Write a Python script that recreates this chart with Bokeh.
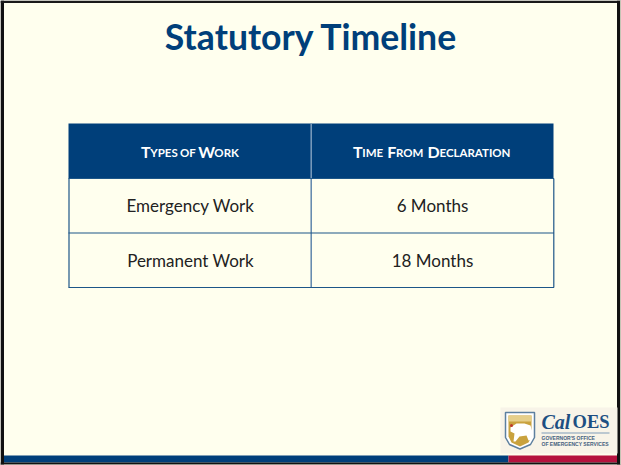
from bokeh.plotting import figure
from bokeh.embed import file_html
from bokeh.resources import INLINE
from bokeh.core.properties import value
from bokeh.models import Range1d

TITLE = "Statutory Timeline"
HEADER_RUNS = [
    [("T", 1), ("YPES", 0), ("OF", 0), ("W", 1), ("ORK", 0)],
    [("T", 1), ("IME", 0), ("F", 1), ("ROM", 0), ("D", 1), ("ECLARATION", 0)],
]
HEADER_GAPS = [
    [0, 0, 1, 1, 0],
    [0, 0, 1, 0, 1, 0],
]
ROW_A = ["Emergency Work", "6 Months"]
ROW_B = ["Permanent Work", "18 Months"]
LOGO_MAIN = ["Cal", "OES"]
LOGO_SUB = ["GOVERNOR'S OFFICE", "OF EMERGENCY SERVICES"]

NAVY = "#003f7a"
CREAM = "#ffffee"
INK = "#222222"
FONT = "Lato"
GLYPH_W = dict(A=.68, B=.65, C=.65, D=.74, E=.56, F=.54, I=.28, K=.66, L=.47, M=.9, N=.75, O=.8,
               P=.6, R=.62, S=.54, T=.58, W=1.0, Y=.62)

p = figure(width=621, height=465, output_backend="svg", toolbar_location=None,
           x_range=Range1d(0, 621), y_range=Range1d(465, 0),
           min_border=0, outline_line_color=None, background_fill_color=CREAM,
           border_fill_color=CREAM, styles={"position": "absolute", "left": "0", "top": "0"})
p.axis.visible = False
p.grid.visible = False


def box(x0, x1, y0, y1, color):
    p.quad(left=x0, right=x1, top=y0, bottom=y1, fill_color=color, line_color=None)


def txt(x, y, s, size, color, font=FONT, style="normal", align="center"):
    p.text(x=[x], y=[y - 0.4 * size], text=[s], text_font=value(font), text_font_size=f"{size}px",
           text_font_style=style, text_color=color, text_align=align,
           text_baseline="alphabetic")


# frame
box(0, 3.5, 0, 465, "#111111")
box(0, 621, 0, 2.5, "#1a1a1a")
box(616.5, 619.5, 0, 465, "#111111")
box(619.5, 621, 0, 465, "#c4c4b4")
box(3.5, 508, 455, 462, NAVY)
box(508, 616.5, 455, 462, "#b5123e")
box(0, 619.5, 462, 464, "#111111")
box(0, 621, 464, 465, "#a5a59a")

# title
txt(311, 50.5, TITLE, 35.6, NAVY, style="bold")

# table
box(68, 553, 123, 178, NAVY)
p.segment(x0=[310.7], x1=[310.7], y0=[123], y1=[178], line_color="#7d9dbd", line_width=1.5)
p.segment(x0=[310.7], x1=[310.7], y0=[178], y1=[287], line_color="#5f86ab", line_width=1.5)
p.segment(x0=[68, 68, 68], x1=[553.5, 553.5, 553.5], y0=[178, 232.5, 287],
          y1=[178, 232.5, 287], line_color="#1d5688", line_width=1.2)
p.segment(x0=[68.5, 553.3], x1=[68.5, 553.3], y0=[178, 178], y1=[287, 287],
          line_color="#1d5688", line_width=1.2)

# small caps headers, drawn run by run
HEADER_START = [140.5, 352.5]
HEADER_SPACE = [3, 5]
BIG, SMALL = 16, 11.5
for runs, gaps, start, space in zip(HEADER_RUNS, HEADER_GAPS, HEADER_START, HEADER_SPACE):
    x = start
    for (s, big), gap in zip(runs, gaps):
        x += gap * space
        size = BIG if big else SMALL
        txt(x, 157, s, size, "#ffffff", style="bold", align="left")
        x += sum(GLYPH_W[c] for c in s) * size

for row, y in zip((ROW_A, ROW_B), (212, 267)):
    txt(190, y, row[0], 17, INK)
    txt(432, y, row[1], 17, INK)

# logo
box(500, 617, 407, 453, "#f8f4e8")
p.patch(x=[505, 534, 534, 530, 519.5, 509, 505], y=[412, 412, 437, 444, 448.5, 444, 437],
        fill_color="#ffffff", line_color="#5d7f9f", line_width=1.5)
p.patch(x=[508, 531, 531, 528, 519.5, 511, 508], y=[415, 415, 436, 442, 446, 442, 436],
        fill_color="#c9a23e", line_color=None)
p.patch(x=[508, 531, 531, 508], y=[415, 415, 421, 421], fill_color="#e6cf8a", line_color=None)
p.patch(x=[510, 516, 524, 530, 532, 531, 528, 526, 519, 515, 513, 514, 510],
        y=[427, 423, 423, 425, 432, 439, 440, 435, 436, 441, 441, 433, 431],
        fill_color="#ffffff", line_color=None)
p.scatter(x=[511], y=[425], size=3, fill_color="#c0392b", line_color=None)
txt(541, 429, LOGO_MAIN[0], 20, "#1d4f82", font="Liberation Serif", style="bold italic", align="left")
txt(572, 429, LOGO_MAIN[1], 18.5, "#1d4f82", font="Liberation Serif", style="bold", align="left")
p.segment(x0=[541], x1=[609], y0=[432.5], y1=[432.5], line_color="#7f9cb8", line_width=1)
txt(541, 439, LOGO_SUB[0], 5, "#44617f", font="Liberation Sans", style="bold", align="left")
txt(541, 445, LOGO_SUB[1], 5, "#44617f", font="Liberation Sans", style="bold", align="left")

open("out.html", "w").write(file_html(p, INLINE))
